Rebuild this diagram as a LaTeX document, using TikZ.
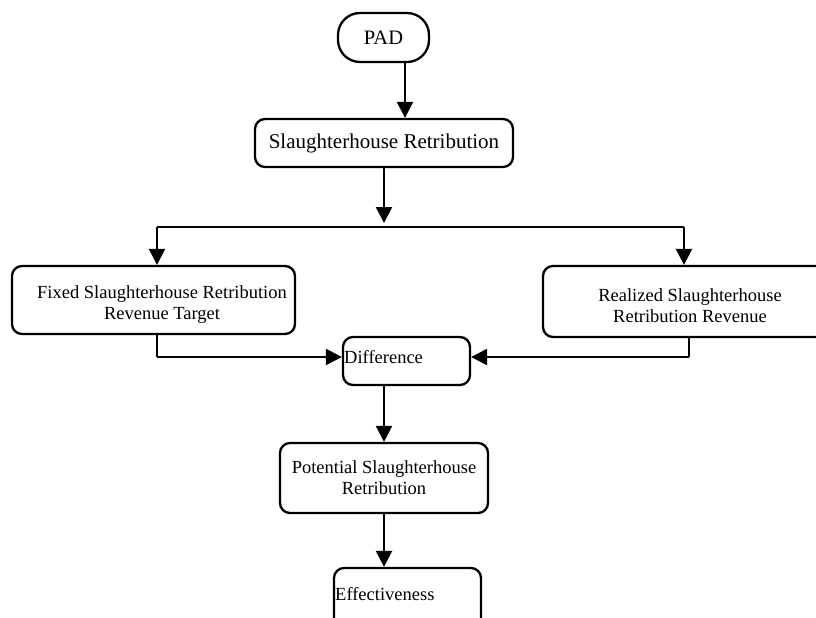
\documentclass[tikz,border=0pt]{standalone}
\usepackage{fontspec}
\setmainfont{Liberation Serif}
\usetikzlibrary{arrows.meta,calc}
\begin{document}
\begin{tikzpicture}[x=1pt,y=-1pt,
  box/.style={draw,line width=2.3pt,rounded corners=10pt,inner sep=0pt,align=center,
    font=\fontsize{18.5}{21}\selectfont},
  txt/.style={inner sep=0pt,font=\fontsize{18.5}{21}\selectfont},
  arr/.style={line width=2.4pt,-{Triangle[width=16pt,length=16pt]}},
  thinline/.style={line width=1.2pt}]
\useasboundingbox (0,0) rectangle (816,618);
\clip (0,0) rectangle (816,618);
% nodes
\node[box,rounded corners=22pt,minimum width=91pt,minimum height=49pt,
      font=\fontsize{20.5}{24}\selectfont] (pad) at (383.5,37.5) {PAD};
\node[box,minimum width=258pt,minimum height=48pt,
      font=\fontsize{21}{24}\selectfont] (sh) at (384,143) {Slaughterhouse Retribution};
\node[box,minimum width=283pt,minimum height=68pt] (fixed) at (153.5,300)
  {\rule{0pt}{22pt}\hspace*{17pt}Fixed Slaughterhouse Retribution\\\hspace*{17pt}Revenue Target};
\node[box,minimum width=294pt,minimum height=71pt] (real) at (690,301.5)
  {\rule{0pt}{22pt}Realized Slaughterhouse\\Retribution Revenue};
\node[box,minimum width=127pt,minimum height=48pt] (diff) at (406.5,361) {};
\node[txt,anchor=base west] (difft) at (344,363) {Difference};
\node[box,minimum width=208pt,minimum height=70pt] (pot) at (384,478)
  {Potential Slaughterhouse\\Retribution};
\node[box,minimum width=147pt,minimum height=90pt] (eff) at (407.5,613) {};
\node[txt,anchor=base west] (efft) at (335,600) {Effectiveness};
% coordinates
\coordinate (split) at (384,227);
\coordinate (hl) at (157,227);
\coordinate (hr) at (684,227);
\coordinate (fl) at (157,357);
\coordinate (rl) at (689,357);
% connectors
\draw[arr] ($(pad.south)+(21.5,0)$) -- ($(sh.north)+(21,0)$);
\draw[arr] (sh.south) -- ($(split)+(0,-4)$);
\draw[thinline] (hl) -- (hr);
\draw[arr] (hl) -- (fixed.north -| hl);
\draw[arr] (hr) -- (real.north -| hr);
\draw[thinline] (fixed.south -| fl) -- (fl);
\draw[arr] (fl) -- (diff.west |- fl);
\draw[thinline] (real.south -| rl) -- (rl);
\draw[arr] (rl) -- (diff.east |- rl);
\draw[arr] (pot.north |- diff.south) -- (pot.north);
\draw[arr] (pot.south) -- (eff.north -| pot.south);
\end{tikzpicture}
\end{document}
